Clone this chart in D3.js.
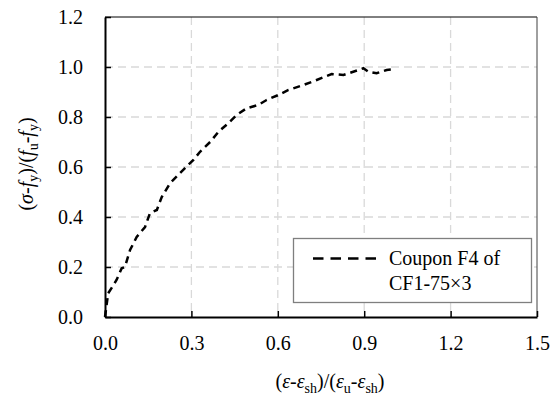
<!DOCTYPE html>
<html>
<head>
<meta charset="utf-8">
<script src="https://cdn.jsdelivr.net/npm/d3@7"></script>
<style>
  body { margin: 0; background: #fff; }
  text { font-family: "Liberation Serif", "Times New Roman", serif; }
</style>
</head>
<body>
<svg id="chart" width="556" height="403"></svg>
<script>
// normalised strain vs normalised stress
var strainN = [0, 0.011, 0.025, 0.04, 0.058, 0.069, 0.087, 0.11, 0.139, 0.156, 0.18, 0.197, 0.226, 0.26, 0.289, 0.307,
  0.33, 0.365, 0.394, 0.428, 0.457, 0.492, 0.532, 0.561, 0.602, 0.637, 0.689, 0.735, 0.787, 0.828, 0.862, 0.897,
  0.915, 0.943, 0.978, 0.995];
var stressN = [0, 0.095, 0.12, 0.148, 0.195, 0.2, 0.268, 0.32, 0.36, 0.415, 0.428, 0.48, 0.535, 0.575, 0.608, 0.628,
  0.661, 0.70, 0.741, 0.775, 0.808, 0.835, 0.848, 0.868, 0.888, 0.908, 0.928, 0.948, 0.972, 0.968, 0.981, 0.995,
  0.981, 0.975, 0.988, 0.99];
var xTicks = [0, 0.3, 0.6, 0.9, 1.2, 1.5];
var yTicks = [0, 0.2, 0.4, 0.6, 0.8, 1.0, 1.2];
var legendLines = ["Coupon F4 of", "CF1-75\u00d73"];

var svg = d3.select("#chart");
var pL = 105, pT = 17, pR = 537, pB = 317;

var x = d3.scaleLinear().domain([0, 1.5]).range([pL, pR]);
var y = d3.scaleLinear().domain([0, 1.2]).range([pB, pT]);

// grid
var grid = svg.append("g");
grid.selectAll(".gx").data(xTicks.slice(1, -1)).enter().append("line")
  .attr("x1", d => x(d)).attr("x2", d => x(d))
  .attr("y1", pT).attr("y2", pB)
  .attr("stroke", "#d9d9d9").attr("stroke-width", 1.3).attr("stroke-dasharray", "8,5");
grid.selectAll(".gy").data(yTicks.slice(1, -1)).enter().append("line")
  .attr("x1", pL).attr("x2", pR)
  .attr("y1", d => y(d)).attr("y2", d => y(d))
  .attr("stroke", "#d9d9d9").attr("stroke-width", 1.3).attr("stroke-dasharray", "8,5");

// frame (top and right)
svg.append("line").attr("x1", pL).attr("x2", pR).attr("y1", pT).attr("y2", pT)
  .attr("stroke", "#000").attr("stroke-width", 1);
svg.append("line").attr("x1", pR).attr("x2", pR).attr("y1", pT).attr("y2", pB)
  .attr("stroke", "#404040").attr("stroke-width", 1);

// axes
var xAxis = svg.append("g").attr("transform", "translate(0," + pB + ")")
  .call(d3.axisBottom(x).tickValues(xTicks).tickFormat(d3.format(".1f"))
    .tickSizeInner(-6).tickSizeOuter(0).tickPadding(19));
var yAxis = svg.append("g").attr("transform", "translate(" + pL + ",0)")
  .call(d3.axisLeft(y).tickValues(yTicks).tickFormat(d3.format(".1f"))
    .tickSizeInner(-6).tickSizeOuter(0).tickPadding(22));

[xAxis, yAxis].forEach(function(a) {
  a.select(".domain").attr("stroke", "#000").attr("stroke-width", 2);
  a.selectAll(".tick line").attr("stroke", "#000").attr("stroke-width", 1.5);
  a.selectAll(".tick text").attr("font-size", "20px").attr("fill", "#000")
    .style("font-family", "Liberation Serif");
});

// curve
var line = d3.line().x((d, i) => x(strainN[i])).y(d => y(d));
svg.append("path").datum(stressN)
  .attr("d", line)
  .attr("fill", "none")
  .attr("stroke", "#000")
  .attr("stroke-width", 2.5)
  .attr("stroke-dasharray", "7,5");

// axis titles with subscripts
function addParts(t, parts) {
  parts.forEach(function(p) {
    var s = t.append("tspan").text(p.t);
    if (p.i) s.attr("font-style", "italic");
    if (p.sub) s.attr("font-size", "14px").attr("dy", 5);
    if (p.up) s.attr("dy", -5);
  });
}

var xt = svg.append("text").attr("x", 330).attr("y", 388)
  .attr("text-anchor", "middle").attr("font-size", "20px").attr("fill", "#000");
addParts(xt, [
  {t: "("}, {t: "\u03b5", i: 1}, {t: "-"}, {t: "\u03b5", i: 1}, {t: "sh", sub: 1},
  {t: ")/(", up: 1}, {t: "\u03b5", i: 1}, {t: "u", sub: 1}, {t: "-", up: 1}, {t: "\u03b5", i: 1},
  {t: "sh", sub: 1}, {t: ")", up: 1}
]);

var yt = svg.append("text").attr("transform", "translate(33,164) rotate(-90)")
  .attr("text-anchor", "middle").attr("font-size", "20px").attr("fill", "#000");
addParts(yt, [
  {t: "("}, {t: "\u03c3", i: 1}, {t: "-"}, {t: "f", i: 1}, {t: "y", sub: 1},
  {t: ")/(", up: 1}, {t: "f", i: 1}, {t: "u", sub: 1}, {t: "-", up: 1}, {t: "f", i: 1},
  {t: "y", sub: 1}, {t: ")", up: 1}
]);

// legend
var lg = svg.append("g");
lg.append("rect").attr("x", 293.5).attr("y", 238.5).attr("width", 238).attr("height", 64)
  .attr("fill", "#fff").attr("stroke", "#7f7f7f").attr("stroke-width", 1.3);
lg.append("line").attr("x1", 313).attr("x2", 377).attr("y1", 258.5).attr("y2", 258.5)
  .attr("stroke", "#000").attr("stroke-width", 2.5).attr("stroke-dasharray", "10.5,7");
lg.selectAll(".lt").data(legendLines).enter().append("text")
  .attr("x", 389).attr("y", (d, i) => 265 + i * 25)
  .attr("font-size", "20px").attr("fill", "#000")
  .text(d => d);
</script>
</body>
</html>
